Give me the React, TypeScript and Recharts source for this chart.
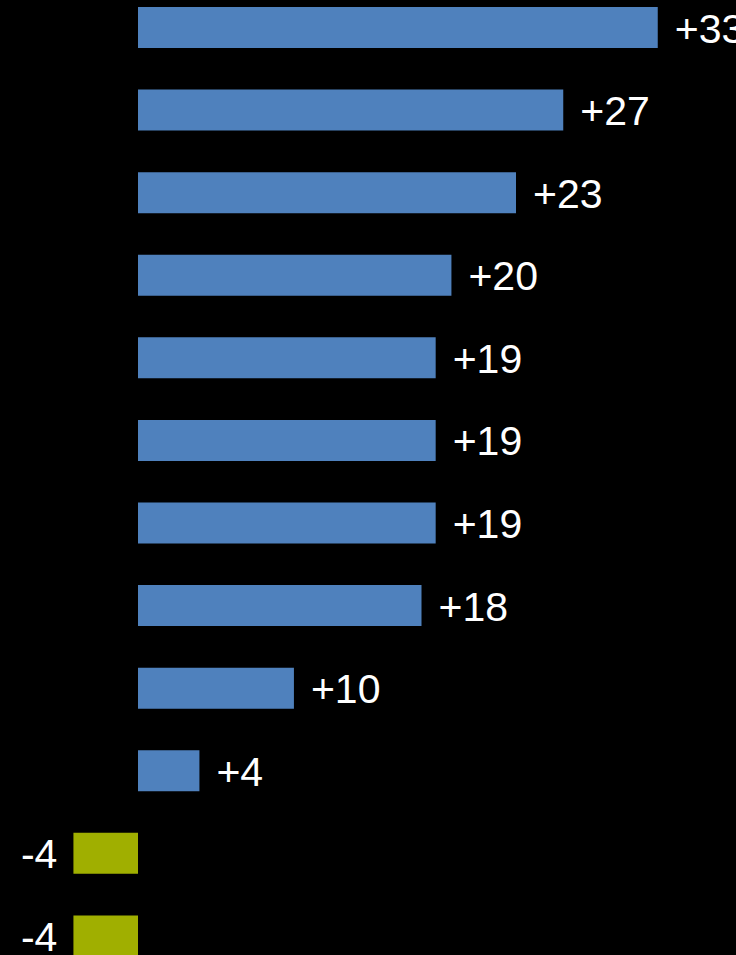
import React from "react";
import { BarChart, Bar, XAxis, YAxis, Cell, LabelList } from "recharts";

// rows from top to bottom
const categories = [
  "Row 1",
  "Row 2",
  "Row 3",
  "Row 4",
  "Row 5",
  "Row 6",
  "Row 7",
  "Row 8",
  "Row 9",
  "Row 10",
  "Row 11",
  "Row 12",
];
// bar lengths
const values = [33, 27, 24, 19.9, 18.9, 18.9, 18.9, 18, 9.9, 3.9, -4.1, -4.1];
// printed labels
const valueLabels = ["+33", "+27", "+23", "+20", "+19", "+19", "+19", "+18", "+10", "+4", "-4", "-4"];

const POSITIVE = "#4F81BD";
const NEGATIVE = "#A0AF00";

const data = categories.map((name, i) => ({
  name,
  value: values[i],
  label: valueLabels[i],
}));

const ValueLabel = (props: any) => {
  const { x, y, width, height, index } = props;
  const left = Math.min(x, x + width);
  const right = Math.max(x, x + width);
  const neg = values[index] < 0;
  return (
    <text
      x={neg ? left - 16 : right + 17}
      y={y + height / 2 + 15}
      textAnchor={neg ? "end" : "start"}
      fill="#ffffff"
      fontSize={41}
      fontFamily="'Liberation Sans', Arial, sans-serif"
    >
      {valueLabels[index]}
    </text>
  );
};

export default function App() {
  return (
    <div
      style={{
        position: "absolute",
        left: 0,
        top: 0,
        width: 736,
        height: 955,
        overflow: "hidden",
        background: "#000000",
      }}
    >
      <div style={{ position: "relative", top: -14 }}>
        <BarChart
          width={736}
          height={991}
          data={data}
          layout="vertical"
          margin={{ top: 0, right: 0, bottom: 0, left: 0 }}
          barCategoryGap={0}
        >
          <XAxis type="number" domain={[-8.762, 37.968]} hide />
          <YAxis type="category" dataKey="name" hide />
          <Bar dataKey="value" barSize={41} isAnimationActive={false}>
            {data.map((d, i) => (
              <Cell key={`cell-${i}`} fill={d.value < 0 ? NEGATIVE : POSITIVE} />
            ))}
            <LabelList dataKey="label" content={<ValueLabel />} />
          </Bar>
        </BarChart>
      </div>
    </div>
  );
}
